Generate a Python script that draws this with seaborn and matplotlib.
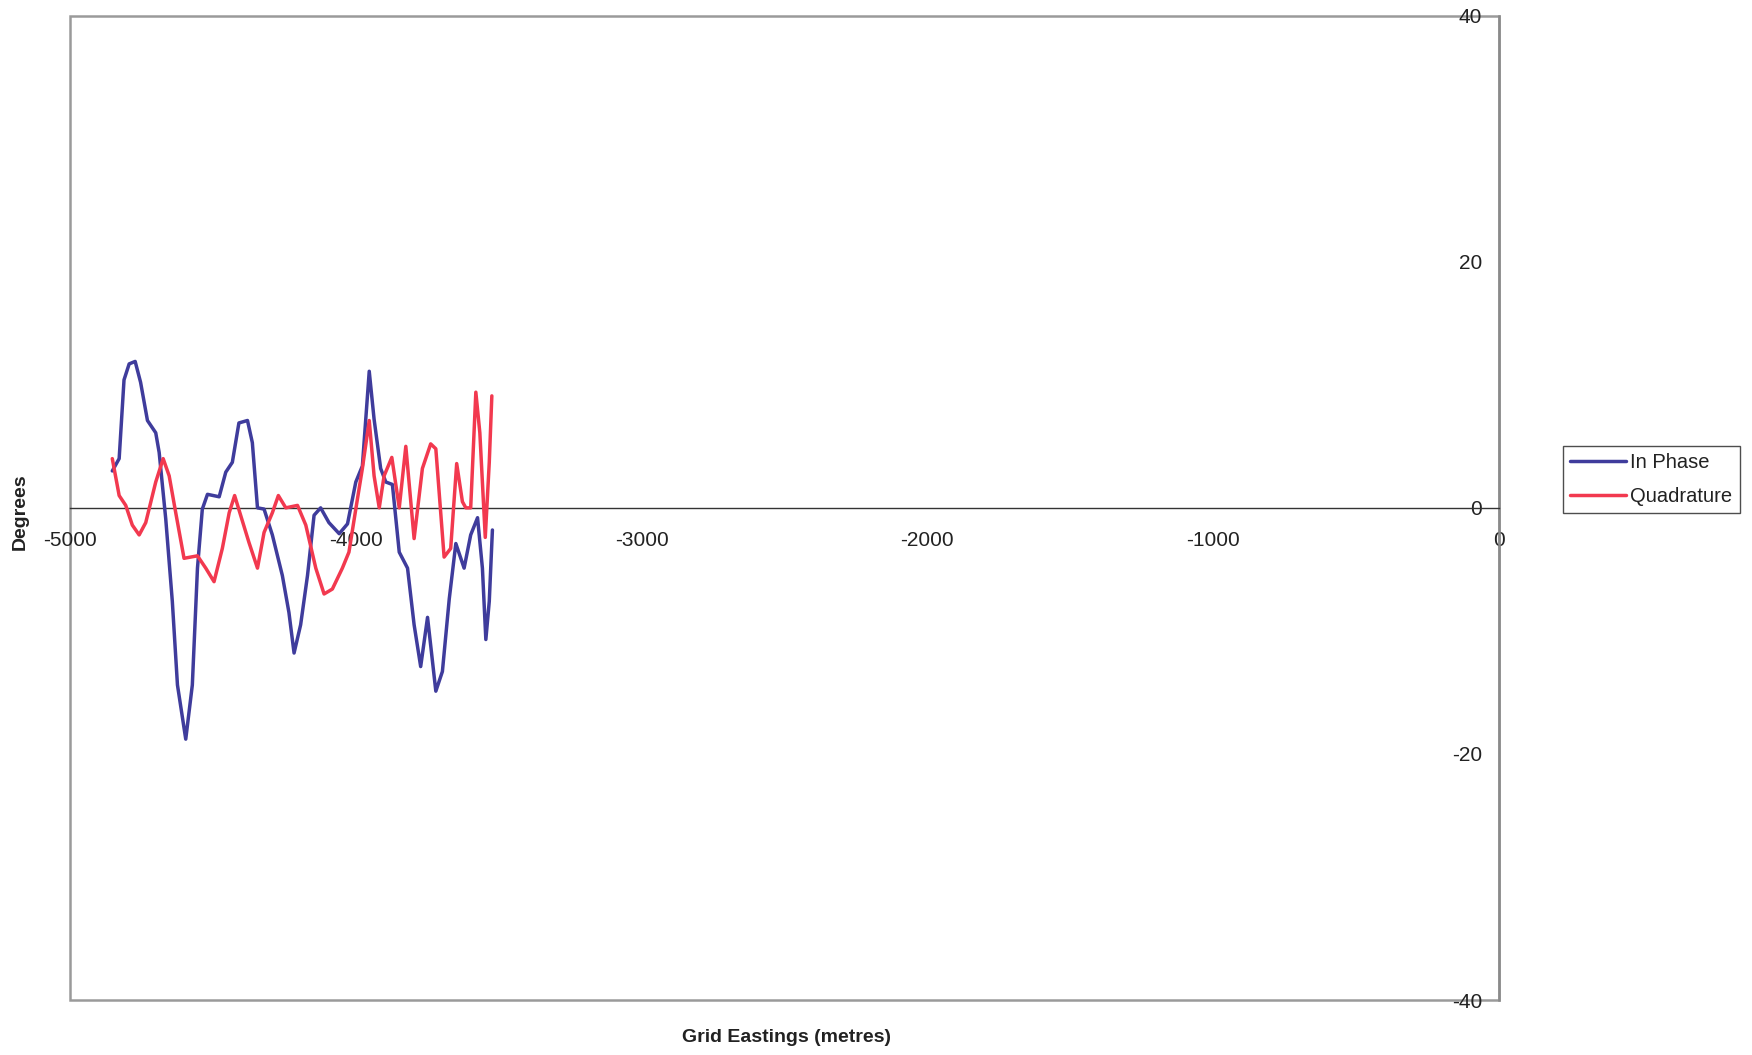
import matplotlib
matplotlib.use('Agg')
import matplotlib.pyplot as plt
import seaborn as sns
import pandas as pd
from matplotlib.patches import Rectangle

# ---- data ----
ip_x = [-4852, -4828, -4811, -4793, -4772, -4753, -4729, -4700, -4688, -4665, -4642, -4624,
        -4595, -4572, -4554, -4537, -4519, -4478, -4455, -4432, -4409, -4379, -4362, -4344,
        -4321, -4292, -4257, -4234, -4216, -4193, -4169, -4146, -4123, -4094, -4058, -4029,
        -4000, -3977, -3953, -3936, -3913, -3895, -3872, -3848, -3819, -3796, -3773, -3749,
        -3720, -3697, -3673, -3650, -3621, -3598, -3574, -3557, -3545, -3533, -3522]
ip_y = [3.0, 4.0, 10.4, 11.7, 11.9, 10.2, 7.1, 6.1, 4.5, -0.9, -7.6, -14.4,
        -18.8, -14.4, -4.9, -0.1, 1.1, 0.9, 2.9, 3.7, 6.9, 7.1, 5.3, 0.0,
        -0.1, -2.2, -5.5, -8.5, -11.8, -9.5, -5.5, -0.6, 0.0, -1.2, -2.1, -1.3,
        2.1, 3.4, 11.1, 7.2, 3.2, 2.1, 1.9, -3.6, -4.9, -9.5, -12.9, -8.9,
        -14.9, -13.3, -7.4, -2.9, -4.9, -2.2, -0.8, -4.9, -10.7, -7.6, -1.8]

q_x = [-4852, -4828, -4805, -4782, -4758, -4735, -4700, -4674, -4653, -4630, -4601, -4554,
       -4525, -4496, -4467, -4443, -4424, -4403, -4374, -4344, -4321, -4292, -4271, -4245,
       -4204, -4175, -4140, -4111, -4082, -4047, -4024, -4000, -3977, -3953, -3936, -3918,
       -3901, -3874, -3848, -3825, -3796, -3767, -3738, -3720, -3691, -3668, -3647, -3627,
       -3615, -3598, -3580, -3566, -3547, -3533, -3524]
q_y = [4.0, 1.0, 0.2, -1.4, -2.2, -1.2, 2.1, 4.0, 2.6, -0.4, -4.1, -3.9,
       -4.9, -6.0, -3.3, -0.4, 1.0, -0.6, -2.8, -4.9, -2.0, -0.4, 1.0, 0.0,
       0.2, -1.4, -4.9, -7.0, -6.6, -4.9, -3.6, -0.1, 3.2, 7.1, 2.6, 0.0,
       2.6, 4.1, 0.0, 5.0, -2.5, 3.2, 5.2, 4.8, -4.0, -3.3, 3.6, 0.5,
       0.0, 0.0, 9.4, 6.1, -2.4, 3.7, 9.1]

series_names = ["In Phase", "Quadrature"]
x_ticks = [-5000, -4000, -3000, -2000, -1000, 0]
y_ticks = [-40, -20, 0, 20, 40]

# ---- style ----
sns.set_style('white')
plt.rcParams['font.family'] = ['Liberation Sans', 'DejaVu Sans']
plt.rcParams['axes.unicode_minus'] = False

W, H = 1752, 1055
fig = plt.figure(figsize=(W / 100, H / 100), dpi=100)
ax = fig.add_axes([70 / W, 1 - 1000 / H, (1499 - 70) / W, (1000 - 15.7) / H])

df_ip = pd.DataFrame({"x": ip_x, "y": ip_y})
df_q = pd.DataFrame({"x": q_x, "y": q_y})
sns.lineplot(data=df_ip, x="x", y="y", sort=False, estimator=None, color='#3f3c9c',
             lw=2.5, ax=ax, label=series_names[0], solid_joinstyle='round',
             solid_capstyle='round')
sns.lineplot(data=df_q, x="x", y="y", sort=False, estimator=None, color='#f2394f',
             lw=2.5, ax=ax, label=series_names[1], solid_joinstyle='round',
             solid_capstyle='round')

ax.set_xlim(-5000, 0)
ax.set_ylim(-40, 40)
ax.set_xticks(x_ticks)
ax.set_yticks(y_ticks)
ax.set_xlabel('')
ax.set_ylabel('')

ax.spines['left'].set_position(('data', 0))
ax.spines['bottom'].set_position(('data', 0))
ax.spines['top'].set_visible(False)
ax.spines['right'].set_visible(False)
ax.spines['left'].set_color('#8a8a8a')
ax.spines['left'].set_linewidth(1.8)
ax.spines['bottom'].set_color('#333333')
ax.spines['bottom'].set_linewidth(1.0)
ax.spines['left'].set_zorder(1)
ax.spines['bottom'].set_zorder(1)

frame = Rectangle((0, 0), 1, 1, transform=ax.transAxes, fill=False,
                  ec='#9a9a9a', lw=1.8, clip_on=False, zorder=0.5)
ax.add_patch(frame)

ax.tick_params(axis='both', direction='inout', length=8, width=0.9, color='#555555',
               labelsize=15, labelcolor='#222222')
ax.tick_params(axis='x', pad=13)
ax.tick_params(axis='y', pad=8)

fig.text(20 / W, 1 - 512 / H, 'Degrees', rotation=90, ha='center', va='center',
         fontsize=14, fontweight='bold', color='#222222')
fig.text(786 / W, 1 - 1037 / H, 'Grid Eastings (metres)', ha='center', va='center',
         fontsize=14, fontweight='bold', color='#222222')

handles, labels = ax.get_legend_handles_labels()
if ax.get_legend() is not None:
    ax.get_legend().remove()
leg = fig.legend(handles, labels, loc='upper left',
                 bbox_to_anchor=(1563 / W, 1 - 446 / H), bbox_transform=fig.transFigure,
                 borderaxespad=0, frameon=True, fancybox=False, edgecolor='#222222',
                 fontsize=14.5, handlelength=2.8, handletextpad=0.2, labelspacing=0.75,
                 borderpad=0.35)
leg.get_frame().set_linewidth(1.0)
for t in leg.get_texts():
    t.set_color('#222222')

fig.savefig('out.png', dpi=100)
